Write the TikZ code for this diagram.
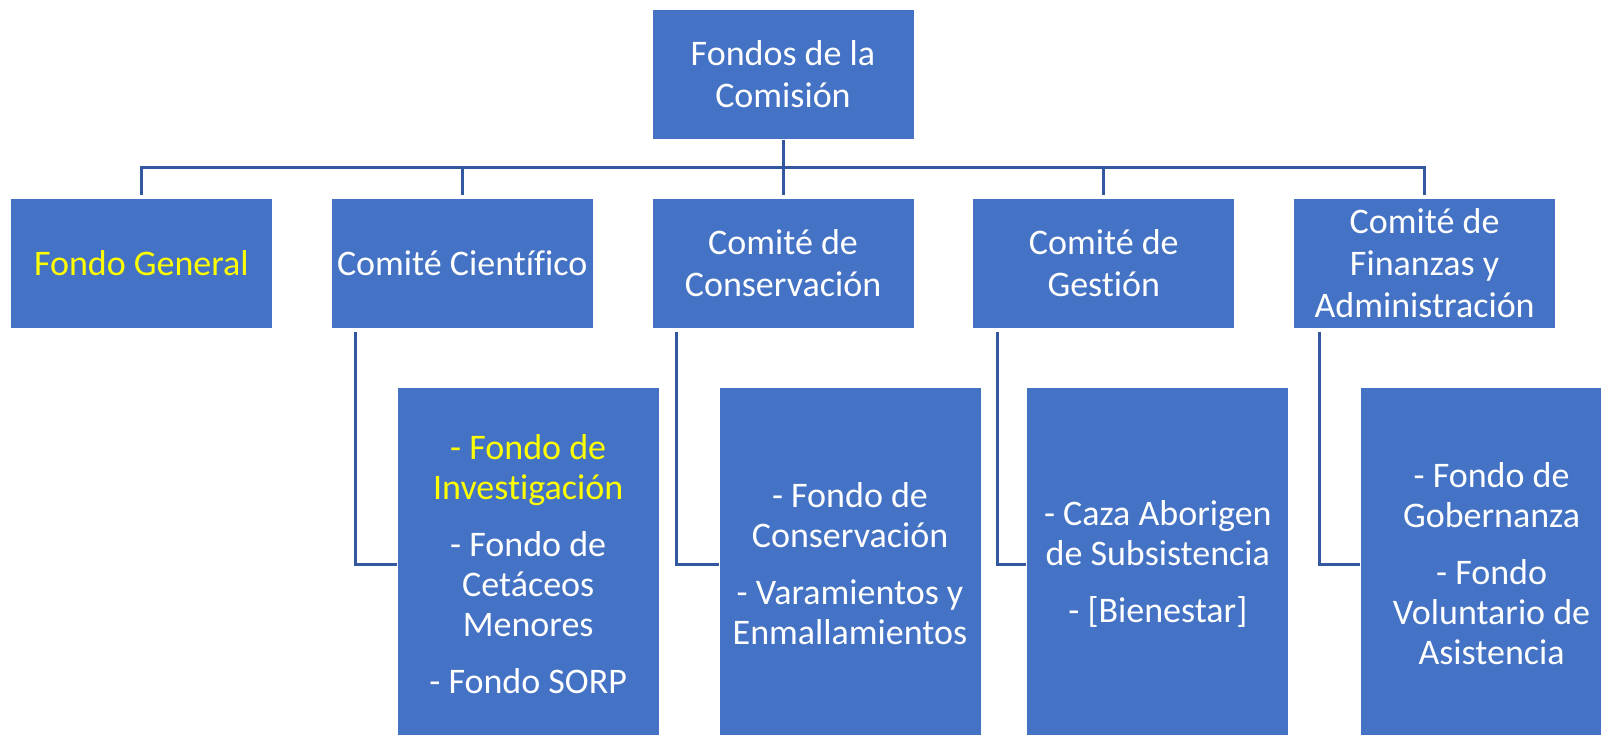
\documentclass[tikz,border=0pt]{standalone}
\usepackage{fontspec}
\setmainfont{Carlito}[Ligatures=CommonOff]
\usetikzlibrary{positioning}

\definecolor{boxblue}{RGB}{68,114,196}
\definecolor{linkblue}{RGB}{52,88,160}
\definecolor{hilite}{RGB}{255,255,0}

\tikzset{
  fund/.style={draw=white, line width=0.8pt, fill=boxblue, text=white, align=center,
    minimum width=262pt, inner sep=2pt, font=\fontsize{36}{42}\selectfont},
  head/.style={fund, minimum height=130pt},
  sub/.style={fund, minimum height=354pt, font=\fontsize{36}{40}\selectfont},
  link/.style={draw=linkblue, line width=3pt},
}

\begin{document}
\begin{tikzpicture}[x=1pt, y=-1pt]
    \useasboundingbox (0,0) rectangle (1601,734);
    \clip (0,0) rectangle (1601,734);
    \fill[white] (0,0) rectangle (1601,734);

    \node[head] (top) at (783,74.5) {Fondos de la\\Comisión};

    \node[head, below=58pt of top] (con) {Comité de\\Conservación};
    \node[head, left=58pt of con] (sci) {Comité Científico};
    \node[head, left=58pt of sci] (gen) {\textcolor{hilite}{Fondo General}};
    \node[head, right=58pt of con] (ges) {Comité de\\Gestión};
    \node[head, right=58pt of ges] (fin) {Comité de\\Finanzas y\\Administración};

    \node[sub, below=58pt of sci.south west, anchor=north west, xshift=66pt] (sciF)
      {\textcolor{hilite}{- Fondo de}\\\textcolor{hilite}{Investigación}\\[17pt]- Fondo de\\Cetáceos\\Menores\\[17pt]- Fondo SORP};
    \node[sub, below=58pt of con.south west, anchor=north west, xshift=67pt] (conF)
      {- Fondo de\\Conservación\\[17pt]- Varamientos y\\Enmallamientos};
    \node[sub, below=58pt of ges.south west, anchor=north west, xshift=54pt] (gesF)
      {- Caza Aborigen\\de Subsistencia\\[17pt]- [Bienestar]};
    \node[sub, below=58pt of fin.south west, anchor=north west, xshift=67pt] (finF)
      {- Fondo de\\Gobernanza\\[17pt]- Fondo\\Voluntario de\\Asistencia};

    \coordinate[below=28pt of top] (bar);
    \foreach \n in {gen,sci,con,ges,fin}
      \draw[link] (top) -- (bar) -| ([yshift=3pt]\n.north);

    \draw[link] ([xshift=25pt,yshift=-3pt]sci.south west) |- (sciF.west);
    \draw[link] ([xshift=25pt,yshift=-3pt]con.south west) |- (conF.west);
    \draw[link] ([xshift=25pt,yshift=-3pt]ges.south west) |- (gesF.west);
    \draw[link] ([xshift=26pt,yshift=-3pt]fin.south west) |- (finF.west);
\end{tikzpicture}
\end{document}
